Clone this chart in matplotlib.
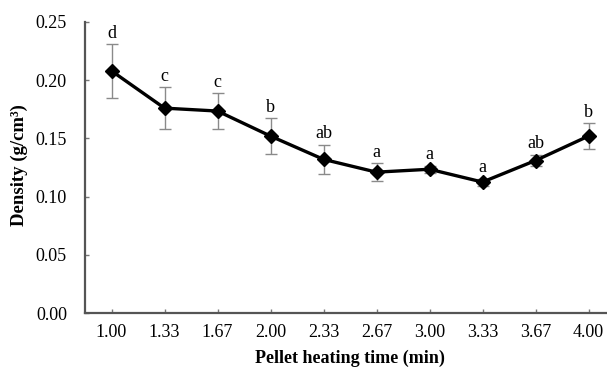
import numpy as np
import matplotlib
matplotlib.use('Agg')
import matplotlib.pyplot as plt

plt.rcParams['font.family'] = ['Liberation Serif', 'DejaVu Serif']

# data ------------------------------------------------------------
times = ['1.00', '1.33', '1.67', '2.00', '2.33', '2.67', '3.00', '3.33', '3.67', '4.00']
density = [0.208, 0.176, 0.1735, 0.152, 0.132, 0.121, 0.1235, 0.1125, 0.131, 0.152]
errors = [0.023, 0.018, 0.0155, 0.0155, 0.0125, 0.008, 0.003, 0.003, 0.005, 0.011]
letters = ['d', 'c', 'c', 'b', 'ab', 'a', 'a', 'a', 'ab', 'b']

# plot ------------------------------------------------------------
fig = plt.figure(figsize=(6.07, 3.68), dpi=100)
ax = fig.add_axes([85/607, 1-313/368, 530/607, (313-22)/368])

x = np.arange(len(times))
ax.errorbar(x, density, yerr=errors, fmt='none', ecolor='#8a8a8a',
            elinewidth=1.0, capsize=4, capthick=1.0, zorder=2)
ax.plot(x, density, '-', color='black', lw=2.4, marker='D', ms=7, zorder=3)

for xi, v, e, t in zip(x, density, errors, letters):
    ax.text(xi, v + e + 0.002, t, ha='center', va='bottom', fontsize=13)

ax.set_xlim(-0.5, len(times) - 0.5)
ax.set_ylim(0, 0.25)
ax.set_yticks(np.arange(0, 0.2501, 0.05))
ax.set_yticklabels(['%.2f' % v for v in np.arange(0, 0.2501, 0.05)])
ax.set_xticks(x)
ax.set_xticklabels(times)

for s in ['top', 'right']:
    ax.spines[s].set_visible(False)
for s in ['left', 'bottom']:
    ax.spines[s].set_color('#555555')
    ax.spines[s].set_linewidth(1.6)

ax.tick_params(axis='both', direction='in', length=3, width=1, color='#777777',
               labelsize=13)
ax.tick_params(axis='y', pad=13)
ax.tick_params(axis='x', pad=8)

fig.text(19/607, 1-165/368, 'Density (g/cm³)', ha='center', va='center',
         rotation=90, fontsize=13.5, fontweight='bold')
fig.text(350/607, 1-358/368, 'Pellet heating time (min)', ha='center', va='center',
         fontsize=13, fontweight='bold')

plt.savefig('out.png', dpi=100)
